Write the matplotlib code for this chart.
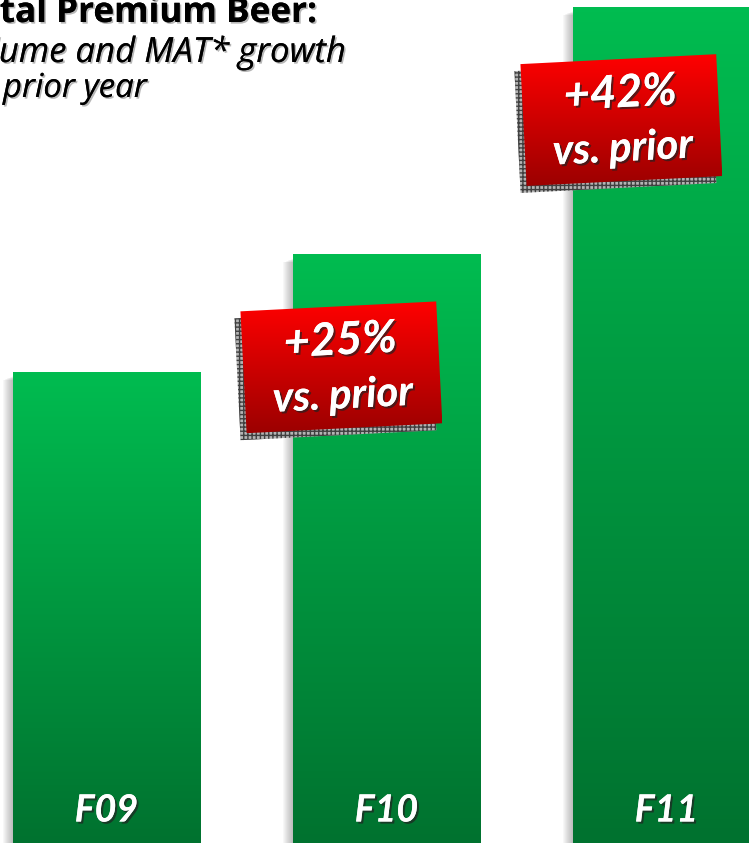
import numpy as np
import matplotlib.pyplot as plt
from matplotlib import patheffects as pe
from matplotlib.patches import Polygon, Rectangle
from matplotlib.colors import LinearSegmentedColormap

# indexed premium beer volume (F09 = 100)
years = ["F09", "F10", "F11"]
volume = [100, 125, 177.5]
growth = ["+25%", "+42%"]  # vs. prior year, for F10 and F11
title_lines = ["Total Premium Beer:", "Volume and MAT* growth", "vs. prior year"]

W, H = 749, 843
fig = plt.figure(figsize=(W / 100, H / 100), dpi=100)
ax = fig.add_axes([0, 0, 1, 1])
ax.axis('off')
xlim = (-0.38, 2.295)
ylim = (0, 179)
ax.set_xlim(*xlim)
ax.set_ylim(*ylim)
px_x = (xlim[1] - xlim[0]) / W
px_y = (ylim[1] - ylim[0]) / H

green = LinearSegmentedColormap.from_list('g', ['#00722f', '#00bc50'])
red = LinearSegmentedColormap.from_list('r', ['#9c0000', '#ff0000'])
grad = np.linspace(0, 1, 256).reshape(-1, 1)

font = 'Lato'
title_font = 'Open Sans'
renderer = fig.canvas.get_renderer()


def fit_size(s, width_px, family=font, **kw):
    # font size that makes string s about width_px wide
    t = fig.text(0, 0, s, fontsize=20, family=family, **kw)
    w = t.get_window_extent(renderer).width
    t.remove()
    return 20 * width_px / w


shadow = [pe.withSimplePatchShadow(offset=(1.5, -1.5), shadow_rgbFace='#222222', alpha=0.7), pe.Normal()]

bars = ax.bar(range(len(years)), volume, width=0.668, color='none', edgecolor='none', zorder=3)
for b in bars:
    x0, w, h = b.get_x(), b.get_width(), b.get_height()
    # soft grey shadow on the left side
    for k in range(1, 11):
        ax.add_patch(Rectangle((x0 - k * px_x, 0), w, h - 4 * px_y - k * 0.4 * px_y,
                               facecolor='#555555', edgecolor='none', alpha=0.045, zorder=2))
    im = ax.imshow(grad, cmap=green, origin='lower', extent=[x0, x0 + w, 0, h],
                   aspect='auto', zorder=3, interpolation='bilinear')
    im.set_clip_path(b)

for i, lab in enumerate(years):
    ax.text(i, 33 * px_y, lab, ha='center', va='center', color='white', fontsize=27,
            fontweight='bold', fontstyle='italic', family=font, zorder=5, path_effects=shadow)

# growth call-outs
ang = np.deg2rad(2.9)
rot = np.array([[np.cos(ang), -np.sin(ang)], [np.sin(ang), np.cos(ang)]])
half = np.array([[-98, -61], [98, -61], [98, 61], [-98, 61]])
to_disp = ax.transData
to_data = ax.transData.inverted()
fs_pct = fit_size("+25%", 113, fontweight='bold', fontstyle='italic')
fs_vs = fit_size("vs. prior", 140, fontweight='bold', fontstyle='italic')
for j, g in enumerate(growth):
    i = j + 1
    c = to_disp.transform((i - 45 * px_x, volume[i] - 113 * px_y))
    corners = c + half @ rot.T
    sh = to_data.transform(corners + np.array([-6, -7]))
    ax.add_patch(Polygon(sh, closed=True, facecolor='#b4b4b4', edgecolor='#404040',
                         hatch='++++', linewidth=0, zorder=6))
    box = Polygon(to_data.transform(corners), closed=True, facecolor='none',
                  edgecolor='none', zorder=7)
    ax.add_patch(box)
    dc = to_data.transform(corners)
    im = ax.imshow(grad, cmap=red, origin='lower', aspect='auto', zorder=7,
                   extent=[dc[:, 0].min(), dc[:, 0].max(), dc[:, 1].min(), dc[:, 1].max()],
                   interpolation='bilinear')
    im.set_clip_path(box)
    for txt, dy, fs in [(g, 26, fs_pct), ("vs. prior", -29, fs_vs)]:
        p = to_data.transform(c + rot @ np.array([0, dy]))
        ax.text(p[0], p[1], txt, ha='center', va='center', rotation=2.9, rotation_mode='anchor',
                color='white', fontsize=fs, fontweight='bold', fontstyle='italic', family=font,
                zorder=8, path_effects=shadow)

# title, cropped at the left edge like the source slide
title_shadow = [pe.withSimplePatchShadow(offset=(1.2, -1.2), shadow_rgbFace='#888888', alpha=0.6), pe.Normal()]
fs1 = fit_size("tal Premium Beer:", 317, family=title_font, fontweight='bold')
fs2 = fit_size("ume and MAT* growth", 347, family=title_font, fontstyle='italic')
fs3 = fit_size("prior year", 144, family=title_font, fontstyle='italic')
fig.text(317 / W, 1 - 22 / H, title_lines[0], ha='right', va='baseline', fontsize=fs1,
         fontweight='bold', family=title_font, color='black', path_effects=title_shadow)
fig.text(346 / W, 1 - 62 / H, title_lines[1], ha='right', va='baseline', fontsize=fs2,
         fontstyle='italic', family=title_font, color='black', path_effects=title_shadow)
fig.text(147 / W, 1 - 97 / H, title_lines[2], ha='right', va='baseline', fontsize=fs3,
         fontstyle='italic', family=title_font, color='black', path_effects=title_shadow)

ax.set_xlim(*xlim)
ax.set_ylim(*ylim)
fig.savefig('out.png', dpi=100)
